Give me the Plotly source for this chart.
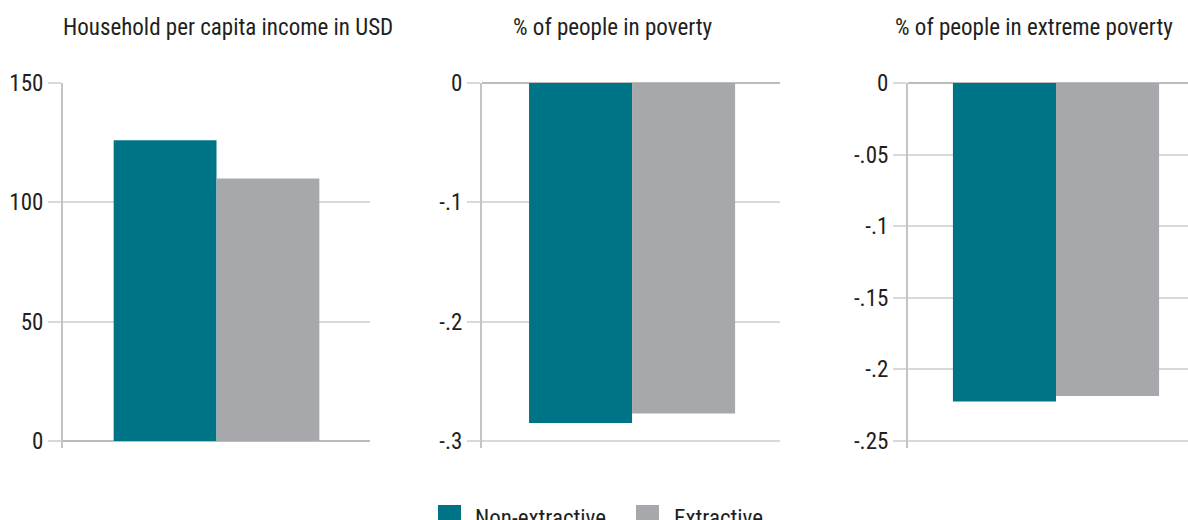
import plotly.graph_objects as go

W, H = 1188, 520

# ---- data ----
group = ["All municipalities"]
series_names = ["Non-extractive", "Extractive"]
series_colors = ["#007487", "#a7a8ab"]

titles = [
    "Household per capita income in USD",
    "% of people in poverty",
    "% of people in extreme poverty",
]
income_vals = [126, 110]
poverty_vals = [-0.285, -0.277]
extreme_vals = [-0.2225, -0.2185]

income_ticks = [0, 50, 100, 150]
income_ticktext = ["0", "50", "100", "150"]
poverty_ticks = [0, -0.1, -0.2, -0.3]
poverty_ticktext = ["0", "-.1", "-.2", "-.3"]
extreme_ticks = [0, -0.05, -0.1, -0.15, -0.2, -0.25]
extreme_ticktext = ["0", "-.05", "-.1", "-.15", "-.2", "-.25"]

panel_values = [income_vals, poverty_vals, extreme_vals]
panel_ticks = [income_ticks, poverty_ticks, extreme_ticks]
panel_ticktext = [income_ticktext, poverty_ticktext, extreme_ticktext]

# ---- layout geometry (pixels) ----
FONT = "Roboto Condensed, Liberation Sans Narrow, DejaVu Sans Condensed, sans-serif"
TXT = "#231f20"
GRID = "#d9d9d9"
ZERO = "#bcbcbd"
AXIS = "#c4c4c6"

x_domains_px = [(63, 370), (482, 780), (908, 1188)]
x_ranges = [[-0.5, 0.5], [-0.488, 0.481], [-0.481, 0.429]]
y_top_px, y_bot_px = 83, 448
y_ranges = [[-150 * 7 / 358, 150], [-0.3 - 0.3 * 7 / 358, 0], [-0.25 - 0.25 * 7 / 358, 0]]
title_centers_px = [228, 612.5, 1034]

fig = go.Figure()

for i in range(3):
    xa = "x" if i == 0 else f"x{i+1}"
    ya = "y" if i == 0 else f"y{i+1}"
    for s in range(2):
        fig.add_trace(go.Bar(
            x=group, y=[panel_values[i][s]], name=series_names[s],
            marker=dict(color=series_colors[s], line=dict(width=0)),
            xaxis=xa, yaxis=ya, showlegend=False, offsetgroup=str(s),
        ))

layout = dict(
    template="none",
    width=W, height=H,
    margin=dict(l=0, r=0, t=0, b=0, pad=0),
    paper_bgcolor="white", plot_bgcolor="white",
    barmode="group", bargap=0.33, bargroupgap=0,
    font=dict(family=FONT, color=TXT, size=23),
    showlegend=False,
)

ydom = [1 - y_bot_px / H, 1 - y_top_px / H]
for i in range(3):
    xk = "xaxis" if i == 0 else f"xaxis{i+1}"
    yk = "yaxis" if i == 0 else f"yaxis{i+1}"
    xs = "x" if i == 0 else f"x{i+1}"
    d0, d1 = x_domains_px[i]
    layout[xk] = dict(
        domain=[d0 / W, d1 / W], range=x_ranges[i], anchor="y" if i == 0 else f"y{i+1}",
        showticklabels=False, showgrid=False, zeroline=False, showline=False, ticks="",
        automargin=False, fixedrange=True,
    )
    layout[yk] = dict(
        domain=ydom, range=y_ranges[i], anchor=xs,
        tickmode="array", tickvals=panel_ticks[i], ticktext=panel_ticktext[i],
        ticks="outside", ticklen=13, tickwidth=1.5, tickcolor=GRID,
        showgrid=True, gridcolor=GRID, gridwidth=1.5,
        zeroline=True, zerolinecolor=ZERO, zerolinewidth=2,
        showline=True, linecolor=AXIS, linewidth=2,
        tickfont=dict(size=23, color=TXT, family=FONT),
        automargin=False, fixedrange=True,
    )

annotations = []
for i in range(3):
    annotations.append(dict(
        text=titles[i], x=title_centers_px[i] / W, y=1 - 27 / H,
        xref="paper", yref="paper", xanchor="center", yanchor="middle",
        showarrow=False, font=dict(size=23, color=TXT, family=FONT),
    ))

# manual legend
legend_items = [(438, 473), (636, 672)]
shapes = []
for s, (sx, tx) in enumerate(legend_items):
    shapes.append(dict(
        type="rect", xref="paper", yref="paper",
        x0=sx / W, x1=(sx + 23) / W, y0=1 - 528 / H, y1=1 - 505 / H,
        fillcolor=series_colors[s], line=dict(width=0),
    ))
    annotations.append(dict(
        text=series_names[s], x=tx / W, y=1 - 518 / H,
        xref="paper", yref="paper", xanchor="left", yanchor="middle",
        showarrow=False, font=dict(size=23, color=TXT, family=FONT),
    ))

layout["annotations"] = annotations
layout["shapes"] = shapes
fig.update_layout(**layout)

fig.write_html("out.html", config={"displayModeBar": False},
               post_script="document.body.style.margin='0px';")
